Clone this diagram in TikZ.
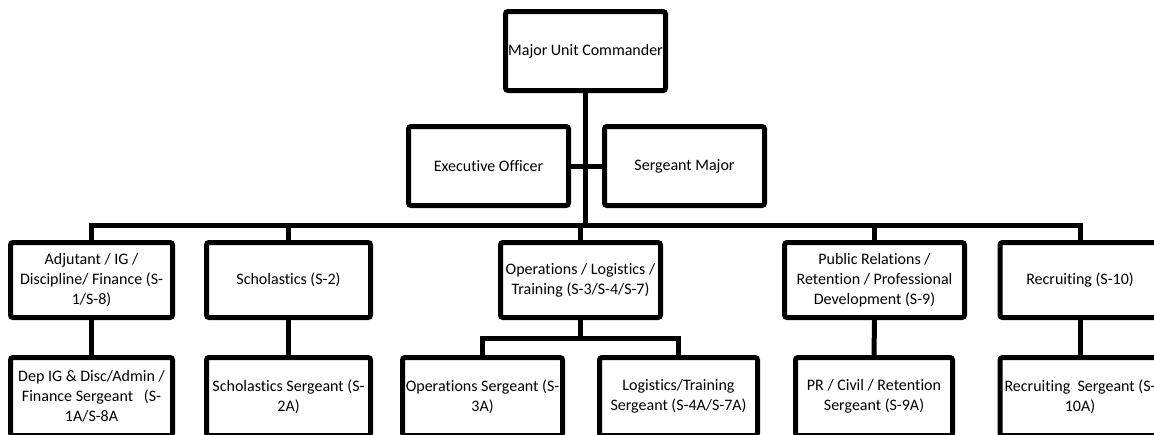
\documentclass[tikz,border=0pt]{standalone}
\usepackage{fontspec}
\setmainfont{Carlito}[Ligatures={NoCommon}]
\begin{document}
\begin{tikzpicture}[x=1pt,y=-1pt,
  box/.style={draw, line width=5pt, rounded corners=2.5pt, align=center, inner sep=0pt,
    font=\fontsize{16}{20}\selectfont},
  link/.style={line width=5pt}]
\useasboundingbox (0,0) rectangle (1154,434);
\begin{scope}
\clip (0,0) rectangle (1154,434);
% top
\node[box, minimum width=160, minimum height=79] (cmd) at (585.5,51) {Major Unit Commander};
\node[box, minimum width=160, minimum height=79] (xo) at (488.5,166) {Executive Officer};
\node[box, minimum width=160, minimum height=79] (sm) at (684.5,166) {Sergeant Major};
% row 2
\node[box, minimum width=162, minimum height=75] (adj) at (91.5,280) {Adjutant / IG /\\Discipline/ Finance (S-\\1/S-8)};
\node[box, minimum width=164, minimum height=75] (sch) at (288.5,280) {Scholastics (S-2)};
\node[box, minimum width=160, minimum height=75] (ops) at (580.5,280) {Operations / Logistics /\\Training (S-3/S-4/S-7)};
\node[box, minimum width=180, minimum height=75] (pr) at (874.5,280) {Public Relations /\\Retention / Professional\\Development (S-9)};
\node[box, minimum width=160, minimum height=75] (rec) at (1080,280) {Recruiting (S-10)};
% row 3
\node[box, minimum width=162, minimum height=78] (adjs) at (91.5,396.5) {Dep IG \& Disc/Admin /\\Finance Sergeant\ \ \ (S-\\1A/S-8A};
\node[box, minimum width=164, minimum height=78] (schs) at (288.5,396.5) {Scholastics Sergeant (S-\\2A)};
\node[box, minimum width=160, minimum height=78] (opss) at (482.5,396.5) {Operations Sergeant (S-\\3A)};
\node[box, minimum width=158, minimum height=78] (logs) at (678.5,396.5) {Logistics/Training\\Sergeant (S-4A/S-7A)};
\node[box, minimum width=157, minimum height=78] (prs) at (874,396.5) {PR / Civil / Retention\\Sergeant (S-9A)};
\node[box, minimum width=160, minimum height=78] (recs) at (1080,396.5) {Recruiting\ \ Sergeant (S-\\10A)};
% connectors
\coordinate (bus) at (585.5,225);
\coordinate (sub) at (580.5,338);
\draw[link] (xo.east) -- (sm.west);
\draw[link] (cmd.south) -- (cmd.south |- bus);
\draw[link] (adj.north) |- (bus) -| (rec.north);
\draw[link] (sch.north) -- (sch.north |- bus);
\draw[link] (ops.north) -- (ops.north |- bus);
\draw[link] (pr.north) -- (pr.north |- bus);
\draw[link] (adj.south) -- (adjs.north);
\draw[link] (sch.south) -- (schs.north);
\draw[link] (ops.south) -- (sub);
\draw[link] (opss.north) |- (sub) -| (logs.north);
\draw[link] (pr.south) -- (prs.north);
\draw[link] (rec.south) -- (recs.north);
\end{scope}
\end{tikzpicture}
\end{document}
